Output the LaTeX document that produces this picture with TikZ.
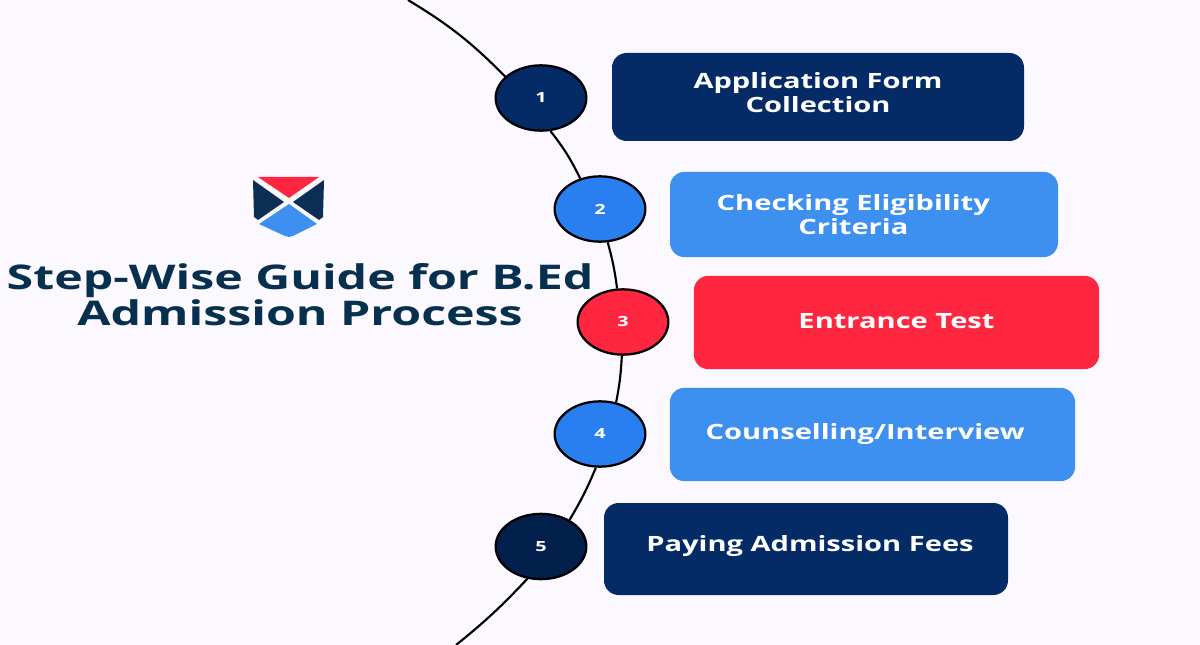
\documentclass[tikz,border=0pt]{standalone}
\usepackage{fontspec}
\setmainfont[FakeStretch=1.42]{Open Sans}
\newfontfamily\boxfont[FakeStretch=1.38]{Open Sans}
\usetikzlibrary{positioning,shapes.geometric}
\definecolor{pagec}{RGB}{251,248,255}
\definecolor{navyc}{RGB}{4,43,102}
\definecolor{deepc}{RGB}{3,31,75}
\definecolor{bluec}{RGB}{42,127,240}
\definecolor{skyc}{RGB}{61,143,240}
\definecolor{redc}{RGB}{255,38,64}
\definecolor{titlec}{RGB}{6,48,78}
\definecolor{shieldc}{RGB}{12,45,84}
\tikzset{
  stepnum/.style={draw=black, line width=1.7pt, ellipse, minimum width=68pt, minimum height=49pt, inner sep=0pt, text=white, font=\fontsize{10.5}{12}\selectfont\bfseries},
  box/.style={rounded corners=11pt, minimum height=66pt, text=white},
  boxtext/.style={text=white, align=center, inner sep=0pt, font=\boxfont\fontsize{15.8}{18}\selectfont\bfseries},
  navybox/.style={box, fill=navyc},
  skybox/.style={box, fill=skyc},
  redbox/.style={box, fill=redc},
  arc/.style={line width=1.6pt, black}
}
\begin{document}
\begin{tikzpicture}[x=0.75pt, y=-0.75pt]
  \useasboundingbox[fill=pagec] (0,0) rectangle (1200,645);

  \coordinate (top) at (408,0);
  \coordinate (bottom) at (456,645);

  \node[stepnum, fill=navyc] (n1) at (541,98) {1};
  \node[stepnum, fill=bluec] (n2) at (600,209) {2};
  \node[stepnum, fill=redc] (n3) at (623,322) {3};
  \node[stepnum, fill=bluec] (n4) at (600,434) {4};
  \node[stepnum, fill=deepc] (n5) at (541,546.5) {5};

  \node[navybox, minimum width=309pt, label={[boxtext, yshift=3.5pt]center:{Application Form\\Collection}}] (form) at (818,97) {};
  \node[skybox, minimum width=291pt, minimum height=64pt, label={[boxtext, xshift=-8pt]center:{Checking Eligibility\\Criteria}}] (check) at (864,214.5) {};
  \node[redbox, minimum width=304pt, minimum height=70pt, label={[boxtext, yshift=1pt]center:{Entrance Test}}] (test) at (896.5,322.5) {};
  \node[skybox, minimum width=304pt, minimum height=70pt, label={[boxtext, xshift=-5.5pt]center:{Counselling/Interview}}] (talk) at (872.5,434.5) {};
  \node[navybox, minimum width=303pt, minimum height=69pt, label={[boxtext, xshift=3pt, yshift=2pt]center:{Paying Admission Fees}}] (fees) at (806,549) {};

  % the curve behind the numbers
  \draw[arc] (top) to[bend left=7] (n1.149);
  \draw[arc] (n1.-74) to[bend left=6] (n2.123);
  \draw[arc] (n2.-77) to[bend left=4] (n3.100);
  \draw[arc] (n3.-92) to[bend left=4] (n4.63);
  \draw[arc] (n4.-97) to[bend left=4] (n5.43);
  \draw[arc] (n5.-113) to[bend left=4] (bottom);

  % shield
  \fill[redc] (258,177) -- (319,177) -- (289,198) -- cycle;
  \fill[shieldc] (253,180) -- (284,202) -- (258,220) -- (254,217) -- cycle;
  \fill[shieldc] (324,180) -- (293,202) -- (319,220) -- (323,217) -- cycle;
  \fill[skyc] (289,204) -- (317,224) -- (293,236) -- (289,237) -- (285,236) -- (259,224) -- cycle;

  \node[text=titlec, align=center, inner sep=0pt, font=\fontsize{25.5}{26.5}\selectfont\bfseries] (title) at (300,294.5) {Step-Wise Guide for B.Ed\\Admission Process};
\end{tikzpicture}
\end{document}
